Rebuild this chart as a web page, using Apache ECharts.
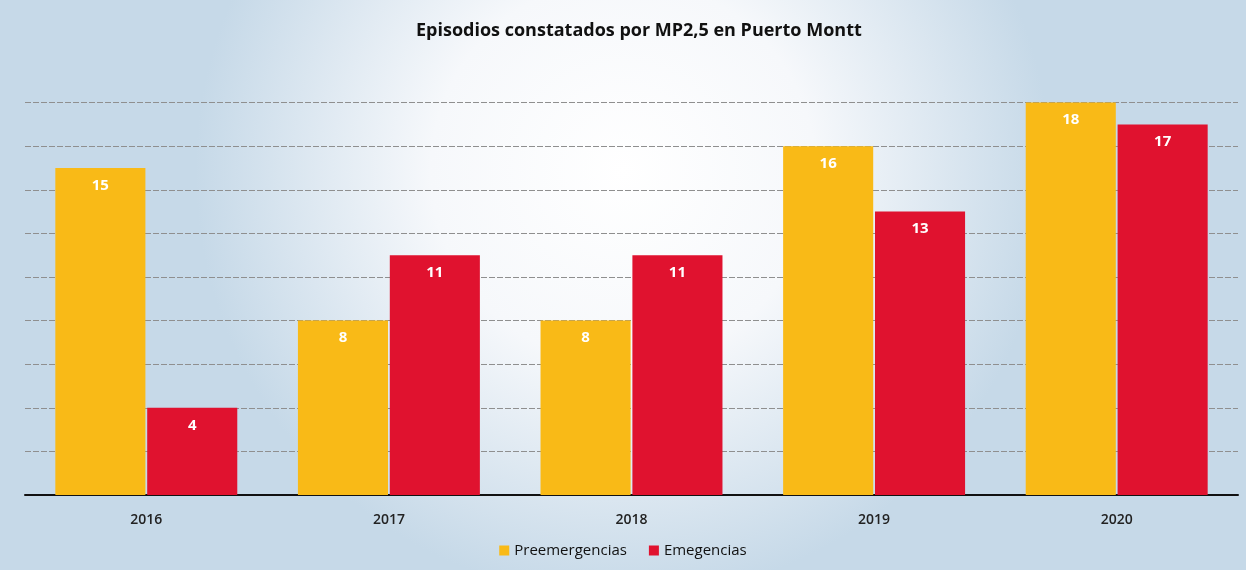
<!DOCTYPE html>
<html>
<head>
<meta charset="utf-8">
<script src="https://cdn.jsdelivr.net/npm/echarts@6/dist/echarts.min.js"></script>
<style>
  html, body { margin: 0; padding: 0; }
  #chart { width: 1246px; height: 570px; }
</style>
</head>
<body>
<div id="chart"></div>
<script>
const years = ['2016', '2017', '2018', '2019', '2020'];
const preemergencias = [15, 8, 8, 16, 18];
const emergencias = [4, 11, 11, 13, 17];

const chart = echarts.init(document.getElementById('chart'));

const labelStyle = {
  show: true,
  position: 'insideTop',
  distance: 10,
  color: '#fff',
  fontWeight: 'bold',
  fontSize: 15,
  fontFamily: 'Open Sans'
};

chart.setOption({
  backgroundColor: {
    type: 'radial', x: 0.5, y: 0.3, r: 0.75,
    colorStops: [
      { offset: 0, color: '#ffffff' },
      { offset: 0.45, color: '#f6f8fb' },
      { offset: 1, color: '#c6d9e8' }
    ]
  },
  title: {
    text: 'Episodios constatados por MP2,5 en Puerto Montt',
    left: 411,
    top: 17,
    textStyle: { fontFamily: 'Open Sans', fontSize: 18, fontWeight: 'bold', color: '#111' }
  },
  legend: {
    bottom: 7,
    left: 'center',
    itemWidth: 10,
    itemHeight: 10,
    itemGap: 22,
    icon: 'rect',
    textStyle: { fontFamily: 'Open Sans', fontSize: 15, color: '#111' },
    data: ['Preemergencias', 'Emegencias']
  },
  grid: { left: 25, right: 8, top: 59, bottom: 75 },
  xAxis: {
    type: 'category',
    data: years,
    axisLine: { lineStyle: { color: '#111', width: 2 } },
    axisTick: { show: false },
    axisLabel: { margin: 18, fontFamily: 'Open Sans', fontSize: 14, fontWeight: 600, color: '#222' }
  },
  yAxis: {
    type: 'value',
    min: 0,
    max: 20,
    interval: 2,
    axisLabel: { show: false },
    axisLine: { show: false },
    axisTick: { show: false },
    splitLine: { showMaxLine: false, lineStyle: { color: '#8f8f8f', width: 1, type: [6, 2] } }
  },
  series: [
    {
      name: 'Preemergencias',
      type: 'bar',
      data: preemergencias,
      barGap: '2%',
      barCategoryGap: '25%',
      itemStyle: { color: '#F9BA17' },
      label: labelStyle
    },
    {
      name: 'Emegencias',
      type: 'bar',
      data: emergencias,
      itemStyle: { color: '#E0122F' },
      label: labelStyle
    }
  ]
});
</script>
</body>
</html>
